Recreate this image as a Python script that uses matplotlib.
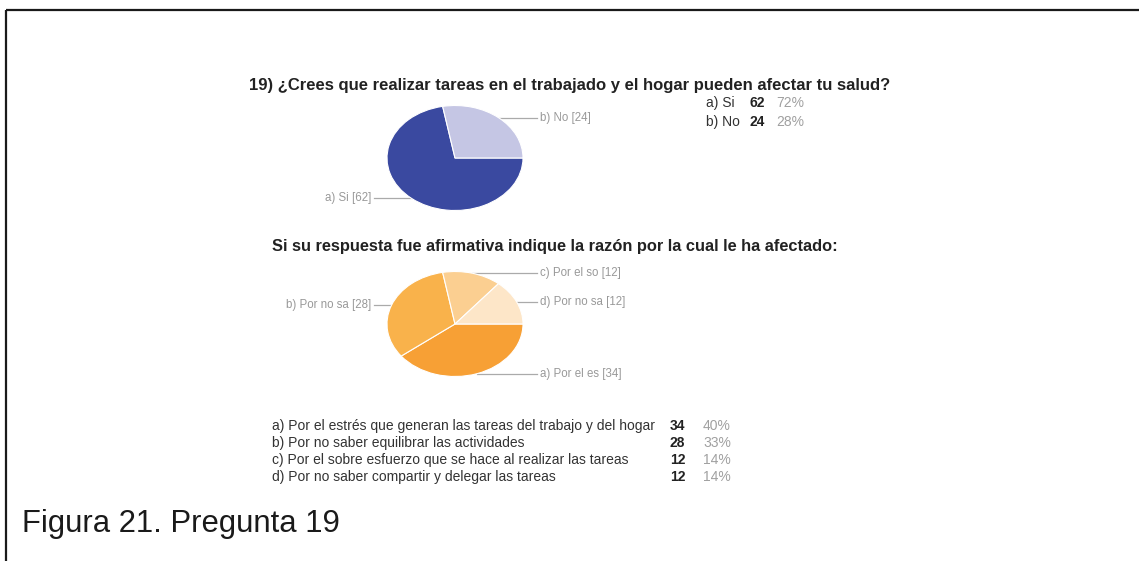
import matplotlib.pyplot as plt
import numpy as np

plt.rcParams['font.family'] = ['Liberation Sans', 'DejaVu Sans']

# data
q1_title = "19) ¿Crees que realizar tareas en el trabajado y el hogar pueden afectar tu salud?"
q1_options = ["a) Si", "b) No"]
q1_short = ["a) Si", "b) No"]
q1_counts = [62, 24]
q1_colors = ['#3a49a0', '#c5c6e4']

q2_title = "Si su respuesta fue afirmativa indique la razón por la cual le ha afectado:"
q2_options = ["a) Por el estrés que generan las tareas del trabajo y del hogar",
              "b) Por no saber equilibrar las actividades",
              "c) Por el sobre esfuerzo que se hace al realizar las tareas",
              "d) Por no saber compartir y delegar las tareas"]
q2_short = ["a) Por el es", "b) Por no sa", "c) Por el so", "d) Por no sa"]
q2_counts = [34, 28, 12, 12]
q2_colors = ['#f7a035', '#f9b24b', '#fbcf91', '#fde6c8']

caption = "Figura 21. Pregunta 19"

W, H = 1139, 561
fig = plt.figure(figsize=(W / 100, H / 100), dpi=100)
fig.patch.set_facecolor('white')

# overlay axes in pixel coordinates
ax = fig.add_axes([0, 0, 1, 1])
ax.set_xlim(0, W)
ax.set_ylim(H, 0)
ax.axis('off')

# page frame (top and left only)
ax.plot([6, W], [10, 10], color='#1a1a1a', lw=1.6, solid_capstyle='butt')
ax.plot([6, 6], [10, H], color='#1a1a1a', lw=1.6, solid_capstyle='butt')

label_style = {'fontsize': 8.3, 'color': '#999999', 'va': 'center'}


def draw_pie(cx, cy, rx, ry, counts, colors, short):
    pax = fig.add_axes([(cx - rx) / W, 1 - (cy + ry) / H, 2 * rx / W, 2 * ry / H])
    wedges, _ = pax.pie(counts, colors=colors, startangle=0, counterclock=False,
                        wedgeprops={'edgecolor': 'white', 'linewidth': 0.8})
    pax.set_aspect('auto')
    pax.set_xlim(-1, 1)
    pax.set_ylim(-1, 1)
    # leader lines from the middle of every slice
    for w, n, s in zip(wedges, counts, short):
        mid = np.deg2rad((w.theta1 + w.theta2) / 2)
        px = cx + rx * np.cos(mid)
        py = cy - ry * np.sin(mid)
        txt = f"{s} [{n}]"
        if np.cos(mid) >= 0:
            ax.plot([px, 537], [py, py], color='#aaaaaa', lw=0.9)
            ax.text(540, py, txt, ha='left', **label_style)
        else:
            ax.plot([374, px], [py, py], color='#aaaaaa', lw=0.9)
            ax.text(371, py, txt, ha='right', **label_style)


# question 1
ax.text(249, 85, q1_title, fontsize=12, fontweight='bold', color='#222222', va='center')
draw_pie(455, 158, 68, 52.5, q1_counts, q1_colors, q1_short)
total1 = sum(q1_counts)
for i, (opt, n) in enumerate(zip(q1_options, q1_counts)):
    y = 103 + i * 19
    ax.text(706, y, opt, fontsize=10, color='#333333', va='center')
    ax.text(749, y, str(n), fontsize=10, fontweight='bold', color='#222222', va='center')
    ax.text(776, y, f"{round(100 * n / total1)}%", fontsize=10, color='#a0a0a0', va='center')

# question 2
ax.text(272, 246, q2_title, fontsize=11.8, fontweight='bold', color='#222222', va='center')
draw_pie(455, 324, 68, 52.5, q2_counts, q2_colors, q2_short)
total2 = sum(q2_counts)
for i, (opt, n) in enumerate(zip(q2_options, q2_counts)):
    y = 426 + i * 17
    ax.text(272, y, opt, fontsize=10, color='#333333', va='center')
    ax.text(670, y, str(n), fontsize=10, fontweight='bold', color='#222222', va='center')
    ax.text(703, y, f"{round(100 * n / total2)}%", fontsize=10, color='#a0a0a0', va='center')

ax.text(22, 532, caption, fontsize=22.3, color='#1a1a1a', va='baseline')

fig.savefig('out.png', dpi=100, facecolor='white')
